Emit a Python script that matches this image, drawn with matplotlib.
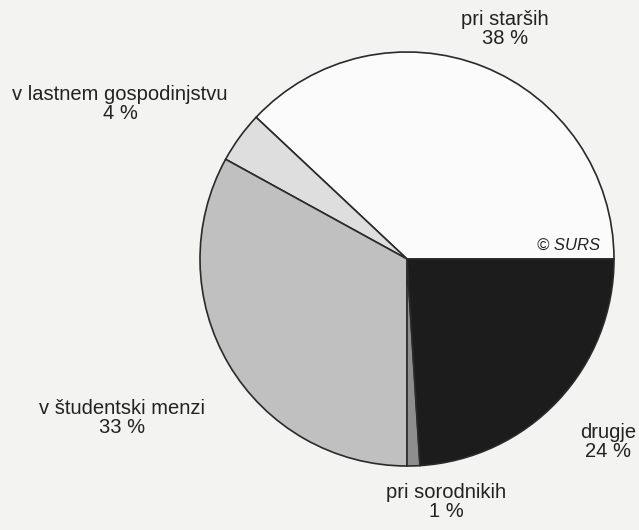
import matplotlib
matplotlib.use('Agg')
import matplotlib.pyplot as plt
from matplotlib import rcParams

rcParams['font.family'] = 'Liberation Sans'
rcParams['font.size'] = 14.5

# Data
labels = ['pri starših', 'v lastnem gospodinjstvu', 'v študentski menzi',
          'pri sorodnikih', 'drugje']
shares = [38, 4, 33, 1, 24]
colors = ['#fbfbfb', '#dedede', '#c0c0c0', '#8e8e8e', '#1c1c1c']
source = '© SURS'

# label anchor points in pixel space (y from top)
label_pos = [(505, 29), (120, 104), (122, 418), (446, 502), (608, 442)]

W, H = 639, 530
fig = plt.figure(figsize=(W / 100, H / 100), dpi=100)
fig.patch.set_facecolor('#f3f3f2')
ax = fig.add_axes([0, 0, 1, 1])

ax.pie(shares, colors=colors, startangle=0, counterclock=True,
       center=(407, H - 259), radius=207, frame=True,
       wedgeprops=dict(edgecolor='#2a2a2a', linewidth=1.2))
ax.set_xlim(0, W)
ax.set_ylim(0, H)
ax.set_aspect('equal')
ax.axis('off')

for lab, val, (x, y) in zip(labels, shares, label_pos):
    ax.text(x, H - y, lab + '\n' + str(val) + ' %', ha='center', va='center',
            color='#222222', linespacing=1.05)

ax.text(600, H - 245, source, ha='right', va='center', style='italic',
        fontsize=12, color='#222222')

fig.savefig('out.png', dpi=100, facecolor=fig.get_facecolor())
